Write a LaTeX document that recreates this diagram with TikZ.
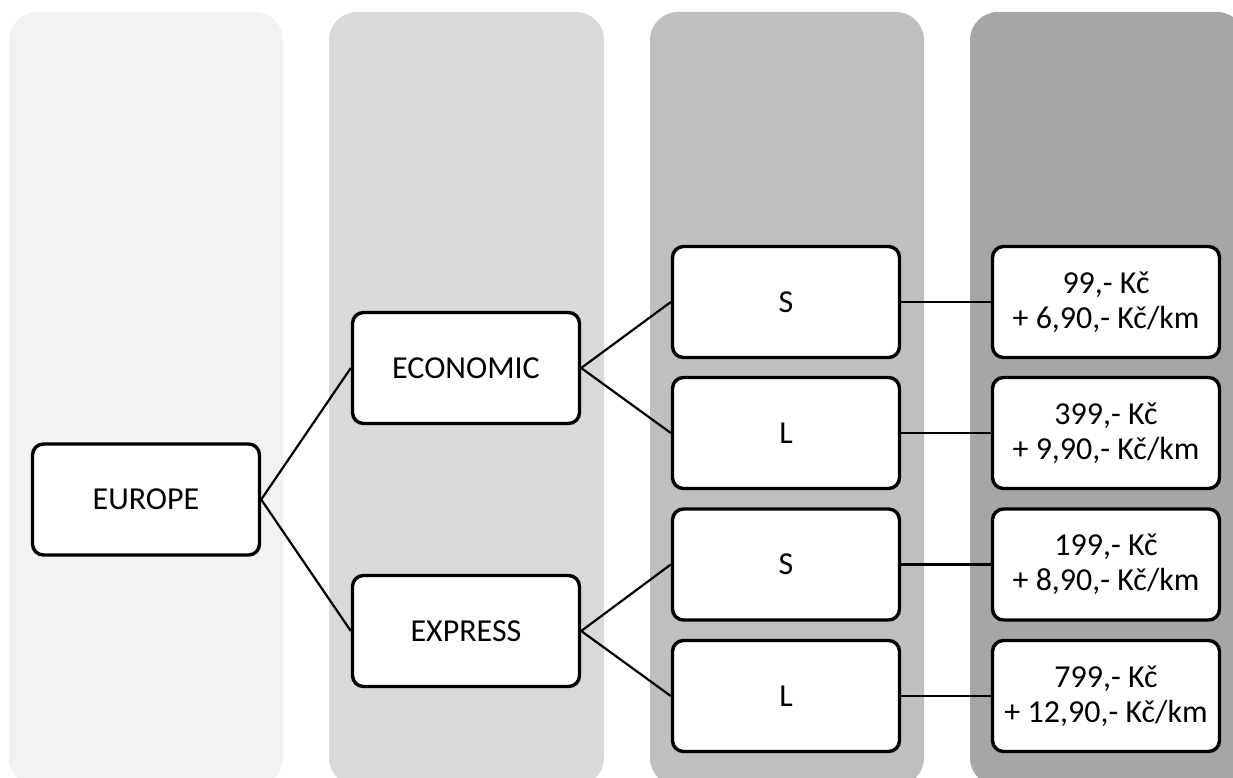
\documentclass[tikz,border=0pt]{standalone}
\usepackage{fontspec}
\setmainfont{Carlito}
\definecolor{colA}{HTML}{F2F2F2}
\definecolor{colB}{HTML}{D9D9D9}
\definecolor{colC}{HTML}{BFBFBF}
\definecolor{colD}{HTML}{A6A6A6}
\tikzset{
  band/.style={rounded corners=28pt},
  box/.style={draw=black, fill=white, line width=3.4pt, rounded corners=11pt,
    minimum width=227pt, minimum height=111pt, inner sep=0pt, align=center,
    font=\fontsize{32}{35}\selectfont},
  link/.style={draw=black, line width=2.2pt}
}
\begin{document}
\begin{tikzpicture}[x=1pt,y=-1pt]
\useasboundingbox (0,0) rectangle (1233,778);
\clip (0,0) rectangle (1233,778);
\fill[colA, band] (9,12) rectangle (283,786);
\fill[colB, band] (329,12) rectangle (604,786);
\fill[colC, band] (650,12) rectangle (924,786);
\fill[colD, band] (970,12) rectangle (1245,786);

\node[box] (europe) at (146,499.5) {EUROPE};
\node[box] (eco) at (466,368) {ECONOMIC};
\node[box] (exp) at (466,631) {EXPRESS};
\node[box] (s1) at (786,302) {S};
\node[box] (l1) at (786,433) {L};
\node[box] (s2) at (786,564.5) {S};
\node[box] (l2) at (786,696) {L};
\node[box] (p1) at (1106,302) {99,- Kč\\+ 6,90,- Kč/km};
\node[box] (p2) at (1106,433) {399,- Kč\\+ 9,90,- Kč/km};
\node[box] (p3) at (1106,564.5) {199,- Kč\\+ 8,90,- Kč/km};
\node[box] (p4) at (1106,696) {799,- Kč\\+ 12,90,- Kč/km};

\draw[link] (europe.east) -- (eco.west);
\draw[link] (europe.east) -- (exp.west);
\draw[link] (eco.east) -- (s1.west);
\draw[link] (eco.east) -- (l1.west);
\draw[link] (exp.east) -- (s2.west);
\draw[link] (exp.east) -- (l2.west);
\draw[link] (s1.east) -- (p1.west);
\draw[link] (l1.east) -- (p2.west);
\draw[link] (s2.east) -- (p3.west);
\draw[link] (l2.east) -- (p4.west);
\end{tikzpicture}
\end{document}
